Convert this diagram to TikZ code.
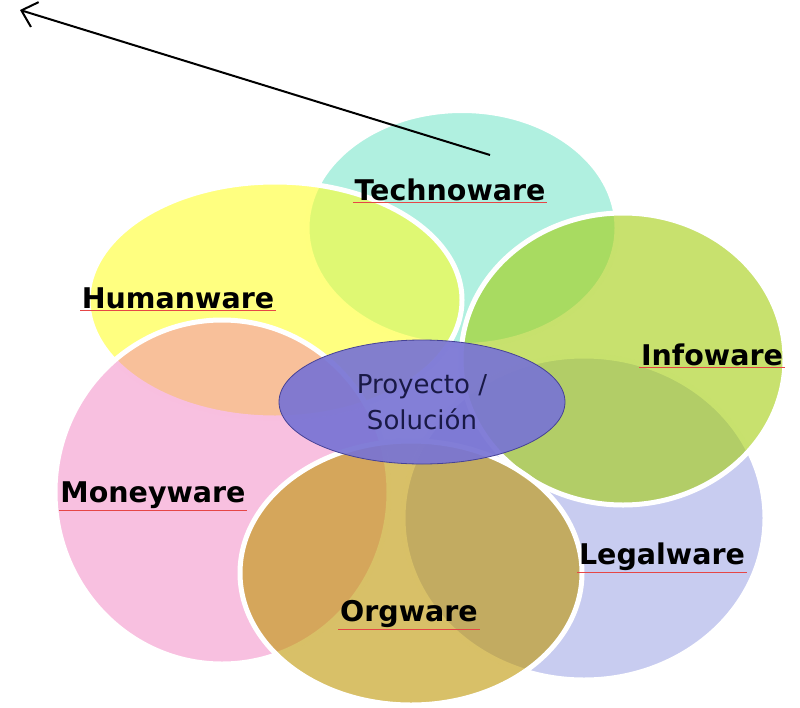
\documentclass[tikz,border=0pt]{standalone}
\usepackage{fontspec}
\setmainfont{DejaVu Sans}
\usetikzlibrary{shapes.geometric,arrows.meta}

\definecolor{technocol}{RGB}{123,230,203}
\definecolor{humancol}{RGB}{255,255,43}
\definecolor{infocol}{RGB}{163,205,13}
\definecolor{legalcol}{RGB}{163,170,230}
\definecolor{moneycol}{RGB}{240,115,186}
\definecolor{orgcol}{RGB}{190,150,3}
\definecolor{coreblue}{RGB}{120,116,212}
\definecolor{coreline}{RGB}{70,66,150}
\definecolor{coretext}{RGB}{25,25,70}
\definecolor{spellred}{RGB}{230,70,70}

\begin{document}
\begin{tikzpicture}[x=1pt, y=-1pt,
      ware/.style ={ellipse, draw=white, line width=5pt, fill opacity=0.6, inner sep=0pt},
      wavy/.style ={draw=spellred, line width=1.1pt},
      tag/.style ={font=\fontsize{28.5}{34}\selectfont\bfseries, inner sep=1.5pt,
                   append after command={(\tikzlastnode.south west) edge[wavy] (\tikzlastnode.south east)}}]
   \useasboundingbox (0,0) rectangle (800,707);

   \node[ware, fill=technocol, minimum width=310pt, minimum height=235pt] (T)  at (462,228)  {};
   \node[ware, fill=legalcol, minimum width=362pt, minimum height=324pt] (L)  at (584,518)  {};
   \node[ware, fill=humancol, minimum width=374pt, minimum height=236pt] (H)  at (275,300)  {};
   \node[ware, fill=infocol, minimum width=324pt, minimum height=292pt] (I)  at (623,359)  {};
   \node[ware, fill=moneycol, fill opacity=0.45, minimum width=334pt, minimum height=344pt] (M)  at (222,492)  {};
   \node[ware, fill=orgcol, minimum width=342pt, minimum height=264pt] (O)  at (411,573)  {};

   \node[ellipse, draw=coreline, thick, fill=coreblue, fill opacity=0.92, text opacity=1,
         minimum width=286pt, minimum height=124pt, align=center,
         font=\fontsize{26}{36}\selectfont, text=coretext] (P) at (422,402) {Proyecto /\\Solución};

   \node[tag] (Tl) at (450,190) {Technoware};
   \node[tag] (Hl) at (178,298) {Humanware};
   \node[tag] (Il) at (712,355) {Infoware};
   \node[tag] (Ml) at (153,495) {Moneyware};
   \node[tag] (Ll) at (662,557) {Legalware};
   \node[tag] (Ol) at (409,614) {Orgware};

   \coordinate (tail) at (490,155);
   \coordinate (head) at (20,10);
   \draw[line width=2pt, -{Straight Barb[length=14pt,width=26pt,line width=2pt]}] (tail) to (head);
\end{tikzpicture}
\end{document}
